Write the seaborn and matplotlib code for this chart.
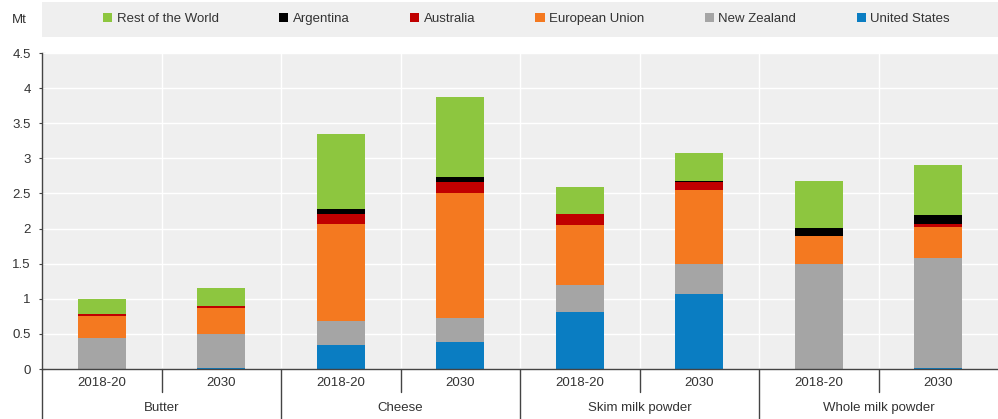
import numpy as np
import pandas as pd
import matplotlib
matplotlib.use("Agg")
import matplotlib.pyplot as plt
from matplotlib.patches import Patch, Rectangle
import seaborn as sns

# ---- data (Mt) ----
products = ["Butter", "Cheese", "Skim milk powder", "Whole milk powder"]
periods = ["2018-20", "2030"]
series = ["Rest of the World", "Argentina", "Australia", "European Union", "New Zealand", "United States"]
colors = ["#8DC63F", "#000000", "#C00000", "#F47920", "#A5A5A5", "#0A7DC2"]

# bar order: Butter 2018-20, Butter 2030, Cheese 2018-20, Cheese 2030, SMP 2018-20, SMP 2030, WMP 2018-20, WMP 2030
united_states = [0.00, 0.02, 0.34, 0.39, 0.81, 1.07, 0.00, 0.02]
new_zealand = [0.44, 0.48, 0.35, 0.33, 0.38, 0.42, 1.50, 1.56]
european_union = [0.32, 0.37, 1.37, 1.78, 0.86, 1.06, 0.39, 0.44]
australia = [0.03, 0.03, 0.15, 0.17, 0.16, 0.12, 0.01, 0.05]
argentina = [0.00, 0.00, 0.07, 0.06, 0.00, 0.01, 0.11, 0.12]
rest_of_world = [0.20, 0.25, 1.06, 1.14, 0.38, 0.40, 0.67, 0.72]

yticks = [0, 0.5, 1, 1.5, 2, 2.5, 3, 3.5, 4, 4.5]
ytick_labels = ["0", "0.5", "1", "1.5", "2", "2.5", "3", "3.5", "4", "4.5"]

# ---- build table ----
bars = [f"{p}|{t}" for p in products for t in periods]
stack = {
    "United States": united_states,
    "New Zealand": new_zealand,
    "European Union": european_union,
    "Australia": australia,
    "Argentina": argentina,
    "Rest of the World": rest_of_world,
}
bottom_to_top = ["United States", "New Zealand", "European Union", "Australia", "Argentina", "Rest of the World"]
cum = np.zeros(len(bars))
rows = []
for s in bottom_to_top:
    cum = cum + np.array(stack[s])
    for b, v in zip(bars, cum):
        rows.append({"bar": b, "series": s, "cum": v})
df = pd.DataFrame(rows)
color_map = dict(zip(series, colors))

sns.set_theme(style="white")
plt.rcParams["font.family"] = ["Liberation Sans", "DejaVu Sans"]

fig = plt.figure(figsize=(9.98, 4.19), dpi=100)
ax = fig.add_axes([42 / 998, 1 - 369 / 419, (998 - 42) / 998, (369 - 53) / 419])
ax.set_facecolor("#EFEFEF")

# draw from top series (largest cumulative) down to bottom
for s in reversed(bottom_to_top):
    sub = df[df["series"] == s]
    sns.barplot(data=sub, x="bar", y="cum", order=bars, color=color_map[s],
                width=0.4, saturation=1, ax=ax, errorbar=None, zorder=3,
                linewidth=0, edgecolor="none")

n = len(bars)
ax.set_xlim(-0.5, n - 0.5)
ax.set_ylim(0, 4.5)
ax.set_yticks(yticks)
ax.set_yticklabels(ytick_labels, fontsize=9.5, color="#333333")
ax.set_xticks([])
ax.set_xlabel("")
ax.set_ylabel("")

# grid
for y in yticks[1:]:
    ax.axhline(y, color="white", lw=1.0, zorder=1)
for k in range(n - 1):
    ax.axvline(k + 0.5, color="white", lw=1.0, zorder=1)

for side in ["top", "right"]:
    ax.spines[side].set_visible(False)
for side in ["left", "bottom"]:
    ax.spines[side].set_color("#444444")
    ax.spines[side].set_linewidth(1.0)
    ax.spines[side].set_zorder(5)
ax.tick_params(axis="y", direction="inout", length=4, width=0.8, color="#444444", pad=6, left=True)

# two-level x labels
trans = ax.get_xaxis_transform()
for i, b in enumerate(bars):
    p, t = b.split("|")
    ax.annotate(t, xy=(i, 0), xycoords=trans, xytext=(0, -14), textcoords="offset pixels",
                ha="center", va="center", fontsize=9.5, color="#333333")
for j, p in enumerate(products):
    center = j * len(periods) + (len(periods) - 1) / 2
    ax.annotate(p, xy=(center, 0), xycoords=trans, xytext=(0, -39), textcoords="offset pixels",
                ha="center", va="center", fontsize=9.5, color="#333333")
ax_h = (369 - 53)
for k in range(n):
    xb = k - 0.5
    if k % len(periods) == 0:
        ax.plot([xb, xb], [0, -50 / ax_h], transform=trans, color="#444444", lw=1.0, clip_on=False)
    else:
        ax.plot([xb, xb], [0, -23 / ax_h], transform=trans, color="#444444", lw=1.0, clip_on=False)

# legend band
fig.patches.append(Rectangle((42 / 998, 1 - 37 / 419), (998 - 42) / 998, 35 / 419,
                             transform=fig.transFigure, facecolor="#EFEFEF", edgecolor="none", zorder=0))
handles = [Patch(facecolor=color_map[s], edgecolor="none") for s in series]
fig.legend(handles, series, loc="center", ncol=6, mode="expand",
           bbox_to_anchor=(103 / 998, 1 - 30 / 419, (950 - 103) / 998, 22 / 419),
           frameon=False, fontsize=9.5, handlelength=0.7, handleheight=0.7,
           handletextpad=0.35, borderpad=0, borderaxespad=0, labelcolor="#333333")

fig.text(12 / 998, 1 - 20 / 419, "Mt", fontsize=9.5, color="#333333", ha="left", va="center")

fig.savefig("out.png", dpi=100)
